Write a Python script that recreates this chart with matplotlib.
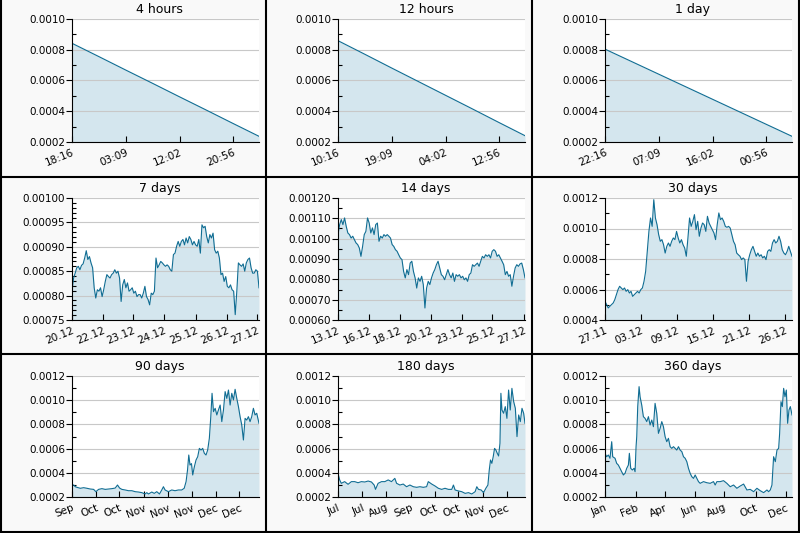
import numpy as np
import matplotlib.pyplot as plt
from matplotlib.lines import Line2D
from matplotlib.ticker import FormatStrFormatter, AutoMinorLocator, MultipleLocator
from matplotlib.transforms import ScaledTranslation

# all prices are in units of 1e-5
SCALE = 1e-5

titles = ["4 hours", "12 hours", "1 day", "7 days", "14 days", "30 days",
          "90 days", "180 days", "360 days"]

h4_price = [84.2, 75.6, 66.9, 58.3, 49.6, 41.0, 32.3, 23.7]
h12_price = [85.9, 77.1, 68.2, 59.4, 50.6, 41.8, 32.9, 24.1]
d1_price = [80.4, 72.3, 64.2, 56.1, 48.0, 39.9, 31.8, 23.7]

d7_price = [
    80.9, 83.6, 84.6, 85.7, 86.0, 85.3, 86.2, 86.5, 87.7, 89.2, 87.4, 88.0,
    86.7, 85.7, 81.6, 79.5, 81.2, 80.9, 81.6, 79.8, 81.2, 82.9, 84.3, 83.9,
    83.6, 84.3, 84.6, 85.3, 84.6, 85.0, 83.6, 78.8, 82.2, 83.3, 81.6, 82.6,
    80.9, 81.2, 81.6, 80.5, 80.9, 79.8, 80.2, 80.2, 79.5, 80.5, 81.9, 79.8,
    79.2, 78.1, 80.5, 80.2, 80.9, 87.7, 85.7, 86.3, 87.0, 86.7, 86.3, 86.0,
    86.3, 86.0, 85.3, 85.0, 88.4, 88.7, 90.1, 91.1, 90.1, 91.1, 91.5, 90.4,
    91.8, 90.8, 92.1, 91.5, 90.4, 91.1, 90.4, 90.1, 91.5, 88.7, 94.5, 93.9,
    94.2, 92.1, 90.8, 92.5, 91.8, 92.8, 89.4, 88.7, 89.1, 87.7, 84.3, 84.6,
    82.9, 83.9, 81.9, 81.6, 82.2, 81.2, 80.9, 76.1, 80.9, 86.7, 86.3, 86.0,
    86.5, 85.0, 86.7, 87.4, 87.7, 85.7, 84.6, 84.6, 85.3, 85.0, 81.6]

d14_price = [
    102.0, 106.9, 109.4, 106.9, 110.2, 106.1, 102.8, 102.0, 100.3, 101.2,
    99.5, 97.9, 97.1, 95.4, 91.3, 96.2, 102.0, 103.6, 110.2, 107.7, 102.8,
    105.3, 102.0, 106.9, 107.7, 98.7, 101.2, 100.3, 102.0, 101.2, 102.0,
    101.2, 100.3, 97.1, 96.2, 94.6, 93.8, 92.1, 90.5, 89.7, 83.9, 80.7,
    84.8, 82.3, 88.0, 88.9, 83.9, 80.7, 75.7, 80.7, 79.0, 81.5, 77.4, 65.9,
    75.7, 79.0, 77.4, 80.7, 83.1, 84.8, 87.2, 88.9, 85.6, 82.3, 81.5, 79.8,
    82.3, 84.8, 82.3, 80.7, 83.1, 79.0, 82.3, 81.5, 82.3, 80.7, 81.5, 79.8,
    80.7, 79.0, 82.3, 83.1, 87.2, 86.4, 87.2, 88.0, 86.4, 88.9, 91.3, 90.5,
    92.1, 91.3, 92.1, 90.5, 93.8, 94.6, 93.8, 91.3, 92.1, 90.5, 88.9, 87.2,
    82.3, 83.9, 81.5, 82.3, 76.6, 81.5, 85.6, 87.2, 86.4, 87.6, 88.0, 84.8,
    80.7]

d30_price = [
    52.2, 50.1, 47.9, 49.0, 50.1, 51.1, 53.3, 56.6, 59.9, 62.1, 61.0, 59.9,
    61.0, 58.8, 59.9, 57.7, 58.8, 55.5, 56.6, 57.7, 58.8, 57.7, 59.9, 61.0,
    65.4, 71.9, 85.0, 98.1, 106.9, 101.4, 118.9, 106.9, 102.5, 96.0, 91.6,
    92.7, 89.4, 83.9, 88.3, 90.5, 88.3, 91.6, 93.8, 92.7, 98.1, 93.8, 90.5,
    92.7, 89.4, 87.2, 81.8, 93.8, 106.9, 101.4, 104.7, 109.1, 99.2, 104.7,
    94.9, 100.3, 103.6, 102.5, 98.1, 108.0, 103.6, 101.4, 99.2, 97.1, 92.7,
    102.5, 110.2, 105.8, 106.9, 104.7, 101.4, 100.8, 101.4, 100.3, 96.0,
    91.6, 89.4, 83.9, 82.8, 81.8, 79.6, 80.7, 79.6, 65.4, 78.5, 82.8, 86.1,
    88.3, 85.0, 81.8, 83.9, 81.8, 82.8, 80.7, 81.8, 79.6, 85.0, 86.1, 85.0,
    90.5, 92.7, 90.5, 91.6, 94.9, 91.6, 86.1, 83.9, 82.8, 85.0, 88.3, 85.0,
    81.8]

# the long ranges are sampled unevenly, so they carry their own day offsets
d90_day = [
    0, 0.8, 1.6, 2.4, 4.0, 5.6, 7.2, 8.8, 10.4, 11.5, 12.8, 14.4, 16.0, 17.6,
    19.2, 20.8, 21.9, 22.9, 24.0, 25.6, 27.2, 28.8, 30.4, 32.0, 33.6, 35.2,
    36.0, 36.8, 38.4, 39.6, 40.8, 42.1, 43.2, 44.0, 44.8, 46.4, 48.0, 49.6,
    51.2, 52.8, 54.0, 54.9, 55.6, 56.2, 56.8, 57.5, 58.1, 58.9, 59.7, 60.5,
    61.3, 62.1, 62.9, 63.7, 64.5, 65.3, 66.1, 66.8, 67.4, 68.1, 68.9, 69.7,
    70.5, 71.3, 72.1, 72.9, 73.7, 74.5, 75.3, 76.1, 76.9, 77.7, 78.5, 79.3,
    80.1, 80.9, 81.7, 82.5, 83.3, 84.1, 84.9, 85.7, 86.5, 87.3, 88.1, 88.9,
    90.0]
d90_price = [
    29.9, 29.9, 28.5, 28.0, 27.2, 27.7, 27.2, 26.6, 26.3, 24.4, 26.3, 26.9,
    26.3, 26.6, 26.9, 27.4, 29.9, 27.4, 26.3, 25.8, 25.2, 25.2, 24.4, 24.1,
    23.6, 22.5, 23.6, 22.5, 24.1, 23.0, 24.4, 22.5, 25.8, 28.5, 25.8, 24.4,
    25.8, 25.2, 25.8, 25.8, 27.2, 32.7, 42.3, 54.7, 46.4, 47.6, 38.2, 45.1,
    50.6, 53.3, 60.2, 58.8, 60.2, 56.1, 54.7, 58.8, 68.5, 86.4, 105.7, 90.5,
    93.3, 87.8, 92.0, 96.0, 82.3, 92.0, 107.1, 101.5, 108.4, 96.0, 105.7,
    100.2, 109.0, 101.5, 94.7, 86.4, 79.5, 67.1, 85.0, 83.6, 86.4, 82.3,
    86.4, 93.3, 87.8, 89.2, 80.9]

d180_day = [
    0, 1.6, 3.2, 6.4, 9.7, 12.9, 16.1, 19.3, 22.5, 25.8, 29.0, 32.2, 34.8,
    36.1, 38.6, 41.9, 45.1, 48.3, 51.5, 54.7, 56.4, 59.6, 62.8, 66.0, 69.2,
    72.5, 75.7, 78.9, 82.1, 85.3, 86.9, 90.2, 93.4, 96.6, 99.8, 103.0, 106.3,
    109.5, 111.1, 112.7, 115.9, 119.1, 122.4, 125.6, 128.8, 132.0, 133.6,
    135.2, 137.8, 140.1, 142.3, 144.3, 145.6, 146.8, 148.1, 149.4, 150.7,
    152.0, 153.3, 154.6, 155.9, 156.8, 157.8, 159.4, 161.0, 162.6, 164.2,
    165.8, 167.4, 169.1, 170.7, 172.3, 173.9, 175.5, 177.1, 178.7, 180.0]
d180_price = [
    39.6, 34.1, 31.3, 32.7, 30.5, 32.7, 32.7, 31.8, 32.7, 32.4, 33.2, 32.4,
    29.9, 26.3, 31.3, 32.7, 32.7, 34.1, 32.7, 35.4, 31.3, 29.9, 30.7, 28.5,
    29.9, 28.5, 28.0, 28.5, 28.0, 28.5, 32.7, 30.7, 29.1, 27.2, 26.3, 27.2,
    26.3, 26.3, 29.9, 25.8, 25.0, 24.4, 23.0, 23.6, 22.5, 24.4, 28.5, 26.3,
    25.8, 23.6, 27.2, 29.9, 42.3, 50.6, 47.8, 53.3, 60.2, 58.8, 56.1, 53.9,
    64.4, 105.7, 91.9, 89.2, 94.7, 85.0, 108.4, 91.9, 109.8, 98.8, 93.3,
    69.9, 87.8, 82.3, 93.3, 89.2, 80.9]

d360_day = [
    0, 3.2, 6.4, 9.6, 12.9, 14.8, 19.3, 22.5, 25.7, 28.9, 32.1, 35.4, 38.6,
    41.8, 45.0, 46.9, 49.5, 52.7, 55.9, 57.9, 59.8, 61.1, 63.0, 65.6, 67.5,
    70.7, 73.9, 77.1, 80.4, 83.6, 86.8, 90.0, 93.2, 96.4, 99.6, 102.9, 106.1,
    109.3, 112.5, 115.7, 118.9, 122.1, 125.4, 128.6, 131.8, 135.0, 138.2,
    141.4, 144.6, 147.9, 151.1, 154.3, 157.5, 160.7, 163.9, 167.1, 170.4,
    173.6, 176.8, 180.0, 183.2, 189.6, 196.1, 202.5, 208.9, 212.1, 215.4,
    221.8, 228.2, 234.6, 241.1, 247.5, 253.9, 260.4, 266.8, 273.2, 279.6,
    286.1, 292.5, 298.9, 305.4, 311.8, 315.0, 318.2, 321.4, 324.6, 327.9,
    331.1, 334.3, 336.2, 338.8, 341.4, 343.9, 346.5, 349.1, 351.6, 354.2,
    356.8, 360.0]
d360_price = [
    56.1, 53.3, 54.7, 52.0, 65.7, 53.3, 52.0, 47.8, 46.4, 43.7, 40.9, 38.2,
    39.6, 43.7, 46.4, 56.1, 43.7, 42.3, 43.7, 40.9, 61.6, 69.9, 94.7, 111.2,
    102.9, 96.0, 86.4, 85.0, 82.3, 86.4, 79.5, 83.6, 78.1, 97.4, 89.2, 72.6,
    76.7, 82.3, 78.1, 69.9, 65.7, 68.5, 61.6, 60.2, 61.6, 60.2, 58.8, 61.6,
    58.8, 57.5, 53.3, 52.0, 49.2, 43.7, 39.6, 36.8, 35.4, 38.2, 35.4, 32.7,
    31.3, 32.7, 31.8, 31.3, 32.7, 29.9, 32.7, 32.7, 33.5, 31.3, 28.5, 29.9,
    27.2, 29.1, 30.7, 25.8, 26.3, 24.4, 27.2, 25.2, 23.6, 25.8, 24.4, 25.8,
    29.9, 53.3, 49.2, 58.8, 60.2, 72.6, 98.8, 94.7, 109.8, 102.9, 108.4,
    80.9, 91.9, 94.7, 87.8]

# x tick labels per panel
h4_labels = ["18:16", "03:09", "12:02", "20:56"]
h12_labels = ["10:16", "19:09", "04:02", "12:56"]
d1_labels = ["22:16", "07:09", "16:02", "00:56"]
d7_labels = ["20.12", "22.12", "23.12", "24.12", "25.12", "26.12", "27.12"]
d14_labels = ["13.12", "16.12", "18.12", "20.12", "23.12", "25.12", "27.12"]
d30_labels = ["27.11", "03.12", "09.12", "15.12", "21.12", "26.12"]
d90_labels = ["Sep", "Oct", "Oct", "Nov", "Nov", "Nov", "Dec", "Dec"]
d180_labels = ["Jul", "Jul", "Aug", "Sep", "Oct", "Oct", "Nov", "Dec"]
d360_labels = ["Jan", "Feb", "Apr", "Jun", "Aug", "Oct", "Dec"]

# y axis ranges (in 1e-5): min, max, step
y_ranges = [(20, 100, 20), (20, 100, 20), (20, 100, 20),
            (75, 100, 5), (60, 120, 10), (40, 120, 20),
            (20, 120, 20), (20, 120, 20), (20, 120, 20)]

series = [h4_price, h12_price, d1_price, d7_price, d14_price, d30_price,
          d90_price, d180_price, d360_price]
days = [None, None, None, None, None, None, d90_day, d180_day, d360_day]
spans = [None, None, None, None, None, None, 90, 180, 360]
labels = [h4_labels, h12_labels, d1_labels, d7_labels, d14_labels,
          d30_labels, d90_labels, d180_labels, d360_labels]

# layout: tick positions as fraction of the time span
tick_pos = [
    [0, 0.288, 0.575, 0.862], [0, 0.288, 0.575, 0.862], [0, 0.288, 0.575, 0.862],
    [0, 0.164, 0.326, 0.492, 0.662, 0.827, 0.988],
    [0, 0.168, 0.329, 0.496, 0.662, 0.826, 0.993],
    [0, 0.193, 0.384, 0.579, 0.77, 0.964],
    [0, 0.128, 0.254, 0.386, 0.512, 0.64, 0.768, 0.895],
    [0, 0.129, 0.259, 0.388, 0.519, 0.644, 0.773, 0.902],
    [0, 0.164, 0.323, 0.479, 0.639, 0.805, 0.968],
]
decimals = [4, 4, 4, 5, 5, 4, 4, 4, 4]
minors = [2, 2, 2, 5, 2, 2, 2, 2, 2]

W, H = 800, 533
fig = plt.figure(figsize=(8, 5.33), dpi=100, facecolor='#f9f9f9')

lefts = [72, 338, 605]
tops = [19, 198, 376]
bottoms = [142, 320, 497]
line_color = '#106d93'
fill_color = '#d4e6ee'

for i in range(9):
    r, c = divmod(i, 3)
    ax = fig.add_axes([lefts[c] / W, 1 - bottoms[r] / H, 187 / W,
                       (bottoms[r] - tops[r]) / H])
    vals = np.array(series[i]) * SCALE
    if days[i] is None:
        x = np.linspace(0, 1, len(vals))
    else:
        x = np.array(days[i]) / spans[i]
    ymin, ymax, step = [v * SCALE for v in y_ranges[i]]
    ax.fill_between(x, vals, ymin, color=fill_color, lw=0)
    ax.plot(x, vals, color=line_color, lw=0.8)
    ax.set_xlim(0, 1)
    ax.set_ylim(ymin, ymax)
    ax.yaxis.set_major_locator(MultipleLocator(step))
    ax.yaxis.set_minor_locator(AutoMinorLocator(minors[i]))
    ax.yaxis.set_major_formatter(FormatStrFormatter('%.' + str(decimals[i]) + 'f'))
    ax.grid(axis='y', color='#c8c8c8', lw=0.8)
    ax.set_xticks(tick_pos[i])
    ax.set_xticklabels(labels[i], rotation=22, ha='right',
                       rotation_mode='anchor')
    for lab in ax.get_xticklabels():
        lab.set_transform(lab.get_transform()
                          + ScaledTranslation(-3 / 72, 0, fig.dpi_scale_trans))
    ax.tick_params(axis='x', direction='in', length=4, width=0.8,
                   labelsize=7.5, pad=4)
    ax.tick_params(axis='y', which='major', direction='out', length=4,
                   width=0.8, labelsize=7.5, pad=1)
    ax.tick_params(axis='y', which='minor', direction='in', length=3,
                   width=0.8)
    for s in ['top', 'right']:
        ax.spines[s].set_visible(False)
    for s in ['left', 'bottom']:
        ax.spines[s].set_linewidth(0.8)
    ax.set_title(titles[i], fontsize=9, pad=4, x=0.47)

# panel borders
for xp in [1, 266, 532, 798.5]:
    fig.add_artist(Line2D([xp / W, xp / W], [0, 1], transform=fig.transFigure,
                          color='black', lw=1.5))
for yp in [177, 354, 531.5]:
    fig.add_artist(Line2D([0, 1], [1 - yp / H, 1 - yp / H],
                          transform=fig.transFigure, color='black', lw=1.5))

fig.savefig('out.png', dpi=100, facecolor=fig.get_facecolor())
